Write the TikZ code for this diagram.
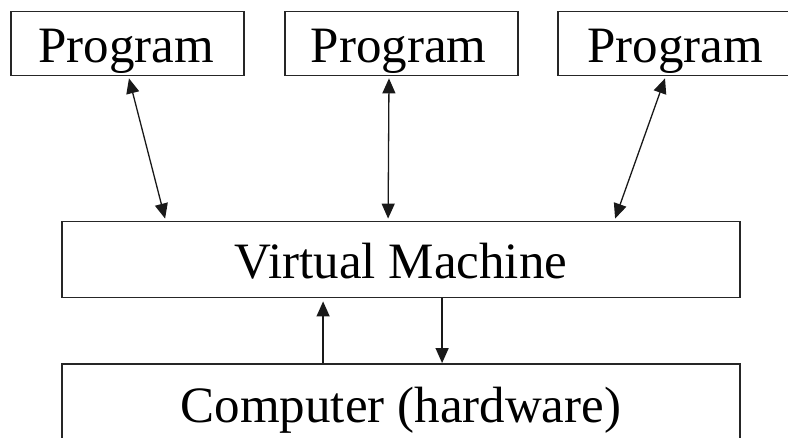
\documentclass[tikz,border=0pt]{standalone}
\usepackage{fontspec}
\setmainfont{Liberation Serif}
\usetikzlibrary{arrows.meta,calc}

\tikzset{
  box/.style={draw=black!85, line width=1.8pt, rectangle, inner sep=0pt},
  caption/.style={anchor=base, inner sep=0pt, font=\fontsize{51}{51}\selectfont},
  link/.style={line width=1.3pt, black!90,
    {Triangle[length=15pt,width=13pt]}-{Triangle[length=15pt,width=13pt]}},
  oneway/.style={line width=1.3pt, black!90, -{Triangle[length=15pt,width=13pt]}}
}

\begin{document}
\begin{tikzpicture}[x=1pt,y=-1pt]
  \useasboundingbox (0,0) rectangle (788,438);
  \clip (0,0) rectangle (788,438);

  % three program boxes along the top
  \node[box, minimum width=233pt, minimum height=64pt] (p1) at (127.5,43.5) {};
  \node[box, minimum width=233pt, minimum height=64pt] (p2) at (401.5,43.5) {};
  \node[box, minimum width=240pt, minimum height=64pt] (p3) at (678,43.5) {};
  \node[caption] (t1) at (126,63) {Program};
  \node[caption] (t2) at (398.5,63) {Program};
  \node[caption] (t3) at (675,63) {Program};

  % virtual machine layer
  \node[box, minimum width=678pt, minimum height=76pt] (vm) at (401,259.5) {};
  \node[caption] (tvm) at (401,279) {Virtual Machine};

  % hardware layer, running off the lower edge
  \node[box, minimum width=678pt, minimum height=120pt] (hw) at (401,424) {};
  \node[caption] (thw) at (401,423) {Computer (hardware)};

  % program <-> virtual machine
  \draw[link] ([xshift=1.5pt,yshift=-2pt]p1.south) -- ([xshift=104pt,yshift=2pt]vm.north west);
  \draw[link] ([xshift=-12.5pt,yshift=-2pt]p2.south) -- ([xshift=327pt,yshift=2pt]vm.north west);
  \draw[link] ([xshift=-13pt,yshift=-2pt]p3.south) -- ([xshift=554pt,yshift=2pt]vm.north west);

  % virtual machine <-> hardware
  \draw[oneway] ([xshift=262pt]hw.north west) -- ([xshift=262pt,yshift=-3pt]vm.south west);
  \draw[oneway] ([xshift=381pt]vm.south west) -- ([xshift=381pt]hw.north west);
\end{tikzpicture}
\end{document}
